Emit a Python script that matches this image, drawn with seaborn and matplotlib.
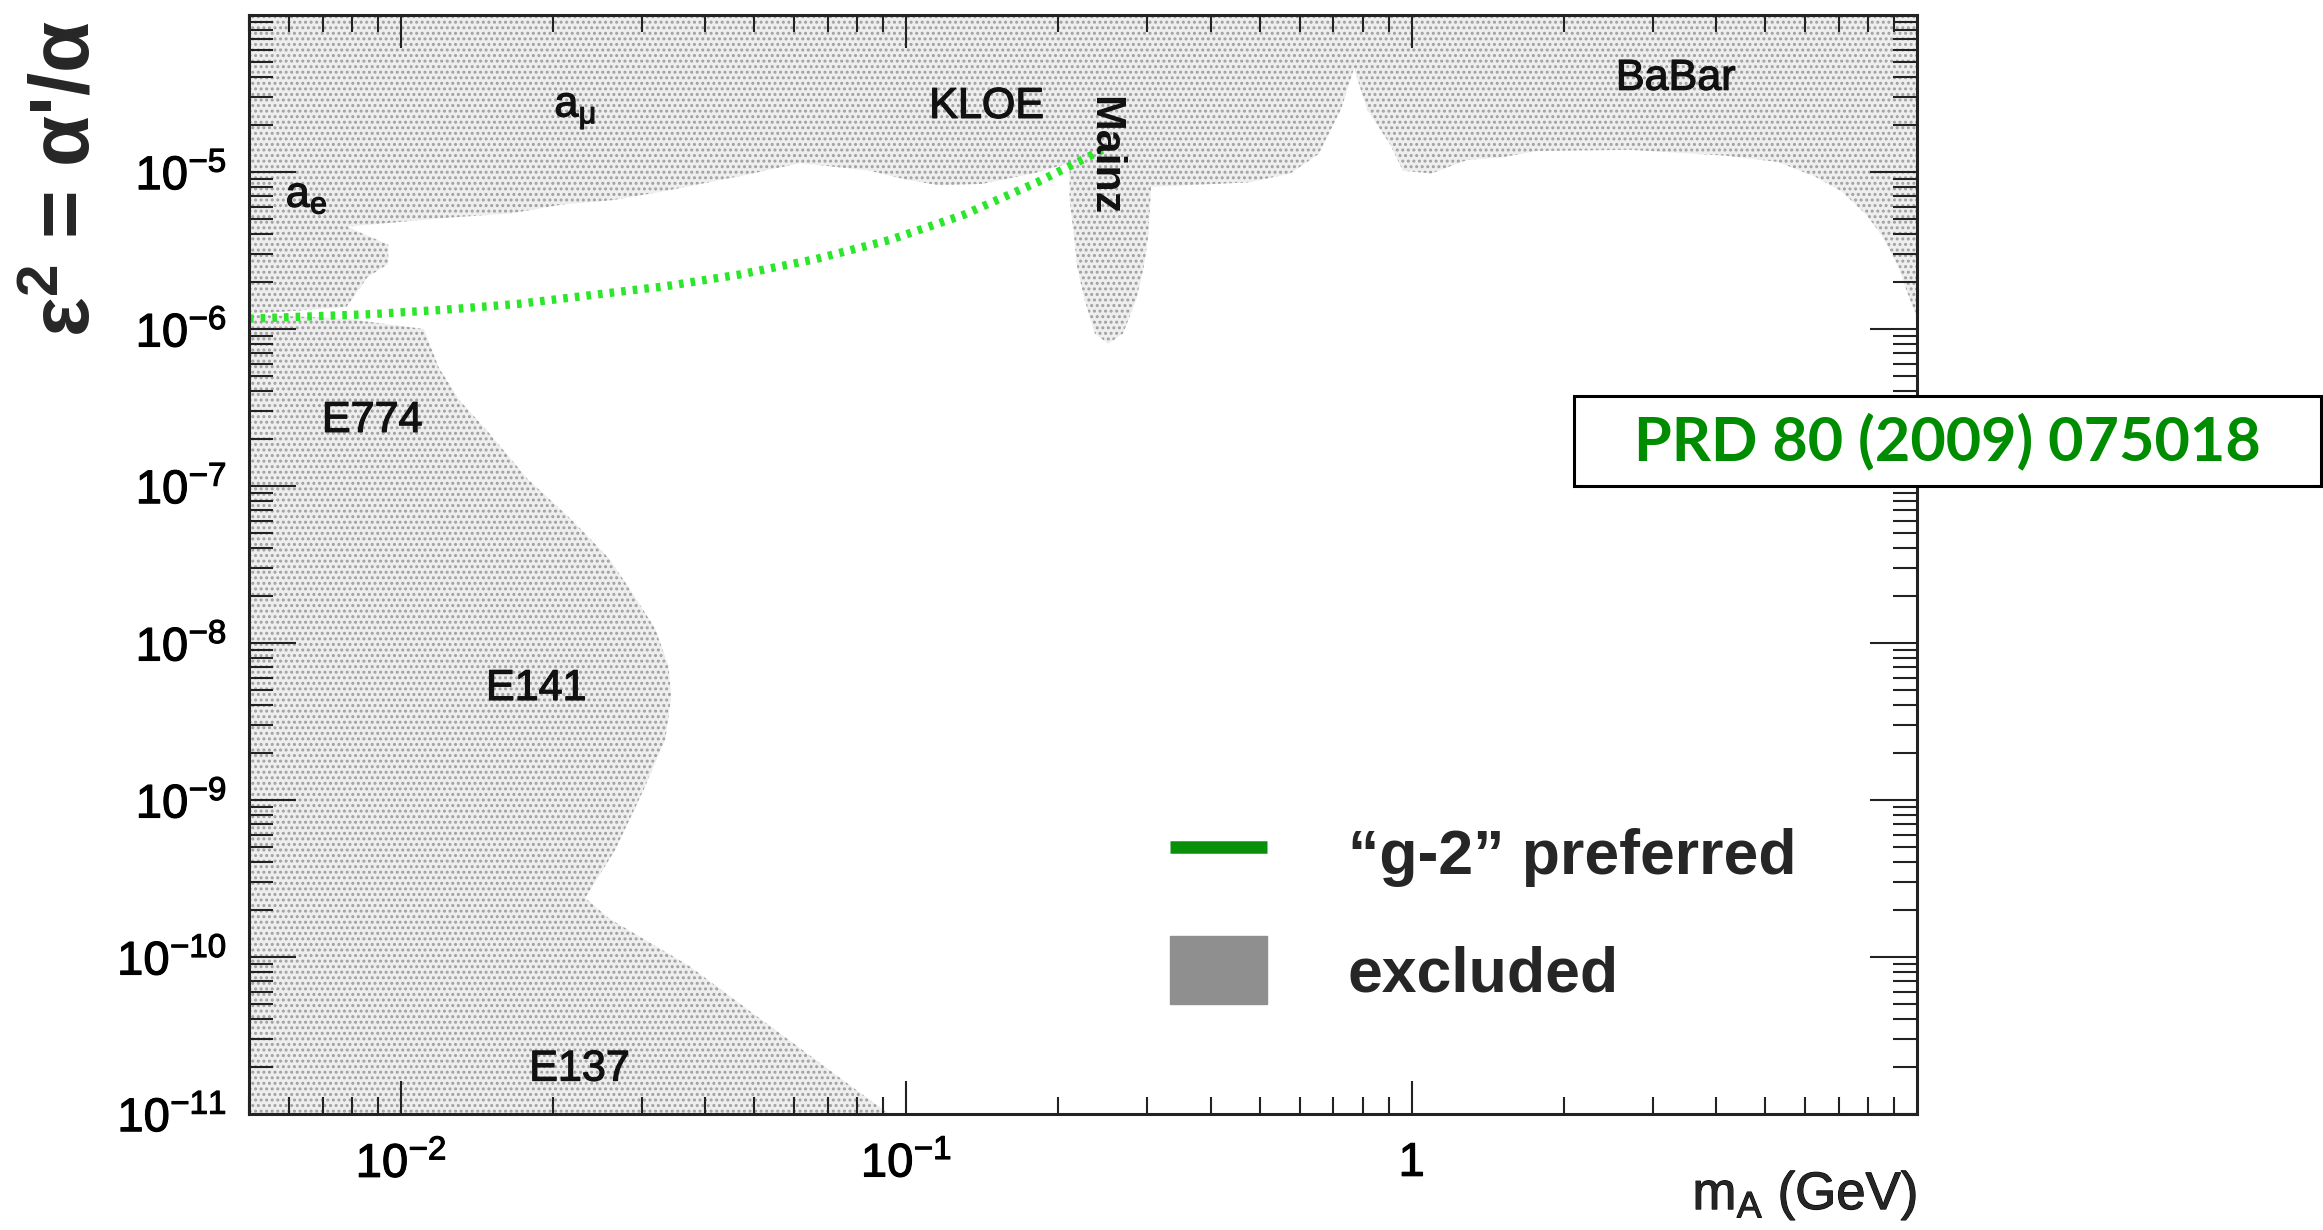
import numpy as np
import pandas as pd
import matplotlib
matplotlib.use("Agg")
import matplotlib.pyplot as plt
import matplotlib.patheffects as pe
import seaborn as sns
from matplotlib.lines import Line2D
from matplotlib.patches import Patch, Rectangle
from matplotlib.ticker import FixedLocator, FixedFormatter, LogLocator, NullFormatter

# ---------------- data ----------------
# lower edge of the excluded band hanging from the top (a_e, a_mu, KLOE, Mainz, BaBar)
upper_mass = [0.005, 0.0078, 0.00858, 0.00943, 0.00943, 0.0078, 0.0122, 0.0164, 0.0208,
              0.0262, 0.0331, 0.048, 0.0616, 0.0846, 0.0995, 0.116, 0.1413, 0.178, 0.2104,
              0.2104, 0.2148, 0.2177, 0.2252, 0.236, 0.2508, 0.2684, 0.2851, 0.295, 0.301,
              0.305, 0.4764, 0.575, 0.654, 0.724, 0.769, 0.817, 0.905, 0.961, 1.093, 1.285,
              1.511, 1.765, 2.70, 4.19, 5.30, 6.28, 7.09, 7.95, 8.56, 9.22, 9.54, 10.0]
upper_eps2 = [1.24e-6, 1.385e-6, 2.14e-6, 2.6e-6, 3.45e-6, 4.48e-6, 5.1e-6, 5.44e-6, 6.2e-6,
              6.62e-6, 7.54e-6, 9.57e-6, 1.14e-5, 1.02e-5, 8.97e-6, 8.22e-6, 8.4e-6, 9.78e-6, 1.14e-5,
              6.62e-6, 3.85e-6, 2.49e-6, 1.544e-6, 9.37e-7, 8.05e-7, 9.37e-7, 1.544e-6, 2.49e-6, 3.85e-6,
              8.04e-6, 8.59e-6, 9.78e-6, 1.3e-5, 2.49e-5, 4.57e-5, 2.49e-5, 1.51e-5, 1.02e-5, 9.78e-6, 1.19e-5,
              1.24e-5, 1.36e-5, 1.385e-5, 1.27e-5, 1.16e-5, 9.37e-6, 7.54e-6, 5.32e-6, 3.85e-6, 2.44e-6, 1.76e-6, 1.19e-6]

# upper edge of the beam-dump excluded region (E774, E141, E137)
lower_mass = [0.005, 0.0078, 0.01109, 0.01187, 0.01304, 0.01483, 0.01779, 0.02193, 0.02579,
              0.02853, 0.03179, 0.03379, 0.03424, 0.03333, 0.03012, 0.02649, 0.02314, 0.02579,
              0.03713, 0.04831, 0.06245, 0.08124, 0.0924]
lower_eps2 = [1.24e-6, 1.16e-6, 1.0e-6, 5.68e-7, 3.52e-7, 2.23e-7, 1.11e-7, 5.94e-8, 3.45e-8,
              2.14e-8, 1.24e-8, 7.22e-9, 4.57e-9, 2.44e-9, 1.14e-9, 4.78e-10, 2.38e-10, 1.76e-10,
              8.78e-11, 4.68e-11, 2.54e-11, 1.355e-11, 1e-11]

# "g-2" preferred curve
g2_mass = [0.005, 0.0087, 0.0122, 0.01708, 0.02394, 0.03355, 0.04702, 0.0659, 0.0924,
           0.1295, 0.1814, 0.2442]
g2_eps2 = [1.164e-6, 1.243e-6, 1.327e-6, 1.446e-6, 1.648e-6, 1.877e-6, 2.23e-6, 2.78e-6,
           3.68e-6, 5.32e-6, 8.59e-6, 1.385e-5]

region_names = ["$a_{\\mu}$", "$a_{e}$", "KLOE", "Mainz", "BaBar", "E774", "E141", "E137"]
region_mass = [0.0221, 0.0065, 0.144, 0.246, 3.33, 0.00876, 0.0185, 0.02253]
region_eps2 = [2.44e-5, 7.06e-6, 2.6e-5, 1.27e-5, 3.93e-5, 2.6e-7, 5.1e-9, 1.92e-11]

x_ticks = [0.01, 0.1, 1]
x_tick_labels = ["$10^{-2}$", "$10^{-1}$", "1"]
y_ticks = [1e-11, 1e-10, 1e-9, 1e-8, 1e-7, 1e-6, 1e-5]
y_tick_labels = ["$10^{-11}$", "$10^{-10}$", "$10^{-9}$", "$10^{-8}$", "$10^{-7}$",
                 "$10^{-6}$", "$10^{-5}$"]
x_range = (0.005, 10)
y_range = (1e-11, 1e-4)

legend_labels = ["\u201cg-2\u201d preferred", "excluded"]
reference_text = "PRD 80 (2009) 075018"

# ---------------- style ----------------
sns.set_theme(style="ticks")
plt.rcParams["font.family"] = ["Liberation Sans", "DejaVu Sans"]
plt.rcParams["mathtext.fontset"] = "custom"
plt.rcParams["mathtext.rm"] = "Liberation Sans"
plt.rcParams["mathtext.it"] = "Liberation Sans:italic"
plt.rcParams["mathtext.bf"] = "Liberation Sans:bold"
plt.rcParams["mathtext.default"] = "regular"
plt.rcParams["hatch.linewidth"] = 1.4

fig = plt.figure(figsize=(23.23, 12.30), dpi=100)
ax = fig.add_axes([0.1072, 0.0943, 0.718, 0.8935])
ax.set_xscale("log")
ax.set_yscale("log")
ax.set_xlim(*x_range)
ax.set_ylim(*y_range)
ax.set_axisbelow(False)

fill_face = "#eeeeee"
fill_dots = "#a0a0a0"

# excluded regions
up_x = [x_range[0]] + upper_mass + [x_range[1]]
up_y = [y_range[1]] + upper_eps2 + [y_range[1]]
ax.fill(up_x, up_y, facecolor=fill_face, edgecolor=fill_dots, hatch="...", linewidth=0, zorder=1)
lo_x = [x_range[0]] + lower_mass
lo_y = [y_range[0]] + lower_eps2
ax.fill(lo_x, lo_y, facecolor=fill_face, edgecolor=fill_dots, hatch="...", linewidth=0, zorder=1)

# g-2 curve
g2_df = pd.DataFrame({"mass": g2_mass, "eps2": g2_eps2})
sns.lineplot(data=g2_df, x="mass", y="eps2", ax=ax, sort=False, estimator=None,
             color="#2be62b", linewidth=6, linestyle=(0, (0.55, 0.85)),
             dash_capstyle="butt", zorder=3)
ax.set_xlabel("")
ax.set_ylabel("")

# region labels
stroke = [pe.withStroke(linewidth=0.9, foreground="#111111")]
for name, mx, ey in zip(region_names, region_mass, region_eps2):
    kw = dict(fontsize=31, ha="center", va="center", color="#111111", zorder=4)
    if name == "Mainz":
        ax.text(mx, ey, name, rotation=270, fontweight="bold", **kw)
    else:
        ax.text(mx, ey, name, path_effects=stroke, **kw)

# ticks
ax.xaxis.set_major_locator(FixedLocator(x_ticks))
ax.xaxis.set_major_formatter(FixedFormatter(x_tick_labels))
ax.xaxis.set_minor_locator(LogLocator(base=10, subs=np.arange(2, 10), numticks=50))
ax.xaxis.set_minor_formatter(NullFormatter())
ax.yaxis.set_major_locator(FixedLocator(y_ticks))
ax.yaxis.set_major_formatter(FixedFormatter(y_tick_labels))
ax.yaxis.set_minor_locator(LogLocator(base=10, subs=np.arange(2, 10), numticks=50))
ax.yaxis.set_minor_formatter(NullFormatter())

ax.tick_params(which="both", direction="in", top=True, right=True, colors="#222222",
               width=1.5, labelsize=34, labelcolor="black")
ax.tick_params(axis="x", which="major", length=24, pad=20)
ax.tick_params(axis="x", which="minor", length=12)
ax.tick_params(axis="y", which="major", length=34, pad=16)
ax.tick_params(axis="y", which="minor", length=17)
for lab in ax.get_xticklabels() + ax.get_yticklabels():
    lab.set_path_effects([pe.withStroke(linewidth=0.8, foreground="black")])
for sp in ax.spines.values():
    sp.set_linewidth(2.2)
    sp.set_color("#222222")
    sp.set_zorder(5)

# axis titles
ax.text(1.0, -0.074, "m$_{\\mathregular{A}}$ (GeV)", transform=ax.transAxes,
        ha="right", va="center", fontsize=38,
        path_effects=[pe.withStroke(linewidth=0.8, foreground="black")])
fig.text(0.029, 0.855, "\u03b5$^{\\mathbf{2}}$ = \u03b1'/\u03b1", rotation=90,
         ha="center", va="center", fontsize=60, fontweight="bold")

# legend
handles = [Line2D([], [], color="#0a8f0a", linewidth=9, solid_capstyle="butt"),
           Patch(facecolor="#8f8f8f", edgecolor="#8f8f8f")]
leg = ax.legend(handles, legend_labels, loc="upper left", bbox_to_anchor=(0.552, 0.268),
                frameon=False, prop={"size": 45, "weight": "bold"}, handlelength=1.55,
                handleheight=1.3, handletextpad=1.3, labelspacing=0.78, borderpad=0,
                borderaxespad=0)

# reference box
fig.patches.append(Rectangle((0.6775, 0.6049), 0.3215, 0.0732, transform=fig.transFigure,
                             facecolor="white", edgecolor="black", linewidth=2.2, zorder=10))
fig.text(0.8382, 0.6415, reference_text, ha="center", va="center", fontsize=44,
         fontweight="bold", color="#008c00", family=["Lato", "DejaVu Sans"], zorder=11)

fig.savefig("out.png", dpi=100, facecolor="white")
